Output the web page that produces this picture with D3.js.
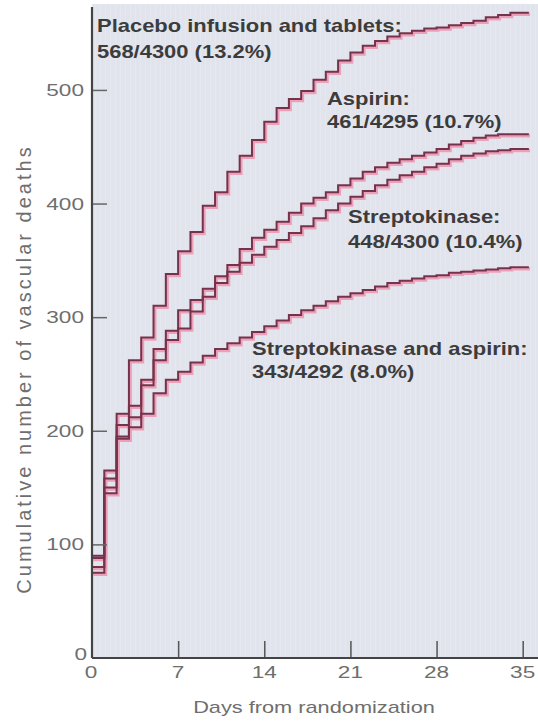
<!DOCTYPE html>
<html>
<head>
<meta charset="utf-8">
<script src="https://cdn.jsdelivr.net/npm/d3@7"></script>
<style>
  html, body { margin: 0; padding: 0; background: #fff; }
  svg { display: block; }
</style>
</head>
<body>
<div id="chart"></div>
<script>
// days from randomization (one step per day)
var days = [0,1,2,3,4,5,6,7,8,9,10,11,12,13,14,15,16,17,18,19,20,21,22,23,24,25,26,27,28,29,30,31,32,33,34,35];

// cumulative vascular deaths
var placebo = [90,165,215,262,282,310,338,358,375,398,410,428,442,456,472,484,492,499,509,516,526,533,539,543,547,550,552,554,555,557,559,561,564,566,568,568];
var aspirin = [80,150,195,212,245,272,288,306,315,325,336,346,360,370,377,384,392,400,405,410,416,422,428,432,436,439,442,445,448,452,455,458,460,461,461,461];
var strepto = [88,158,205,222,240,262,280,290,305,318,330,340,348,355,362,368,374,380,387,394,400,406,411,416,421,425,428,432,435,439,442,444,446,447,448,448];
var skAsp   = [75,145,193,203,215,233,245,252,260,266,272,277,282,287,292,297,302,306,310,314,318,321,324,327,330,332,334,336,337,339,340,341,342,343,344,344];

var seriesNames = ["Placebo infusion and tablets:", "Aspirin:", "Streptokinase:", "Streptokinase and aspirin:"];
var seriesStats = ["568/4300 (13.2%)", "461/4295 (10.7%)", "448/4300 (10.4%)", "343/4292 (8.0%)"];

var yTicks = [0,100,200,300,400,500];
var xTicks = [0,7,14,21,28,35];

var W = 538, H = 723;

var x = d3.scaleLinear().domain([0, 36]).range([92, 535]);
var y = d3.scaleLinear().domain([0, 573]).range([658, 7]);

var svg = d3.select("#chart").append("svg")
    .attr("width", W)
    .attr("height", H);

// grey plot paper
svg.append("rect")
    .attr("x", x(0)).attr("y", 4)
    .attr("width", W - x(0)).attr("height", y(0) - 4)
    .attr("fill", "#e2e4ed");

// faint vertical paper texture
var pat = svg.append("defs").append("pattern")
    .attr("id", "stripes").attr("patternUnits", "userSpaceOnUse")
    .attr("width", 5).attr("height", 10);
pat.append("rect").attr("width", 1).attr("height", 10).attr("fill", "#eceef4");
svg.append("rect")
    .attr("x", x(0)).attr("y", 4)
    .attr("width", W - x(0)).attr("height", y(0) - 4)
    .attr("fill", "url(#stripes)").attr("opacity", 0.35);

// step curves
var all = [placebo, aspirin, strepto, skAsp];
var line = d3.line()
    .x(function(d) { return x(d.day); })
    .y(function(d) { return y(d.v); })
    .curve(d3.curveStepAfter);

var curves = all.map(function(vals) {
  var pts = days.map(function(d, i) { return {day: d, v: vals[i]}; });
  pts.push({day: 35.5, v: vals[vals.length - 1]});
  return pts;
});

var g = svg.append("g");
// pink misregistered halo
g.selectAll("path.halo")
  .data(curves).enter()
  .append("path")
    .attr("class", "halo")
    .attr("d", line)
    .attr("fill", "none")
    .attr("stroke", "#ee9fb8")
    .attr("stroke-width", 3.5)
    .attr("transform", "translate(1.2,1.5)");
g.selectAll("path.ink")
  .data(curves).enter()
  .append("path")
    .attr("class", "ink")
    .attr("d", line)
    .attr("fill", "none")
    .attr("stroke", "#74334c")
    .attr("stroke-width", 2);

// axes
var yAxis = d3.axisRight(y).tickValues(yTicks.filter(function(t){ return t > 0; }))
    .tickSize(15).tickFormat("");
var xAxis = d3.axisTop(x).tickValues(xTicks.filter(function(t){ return t > 0; }))
    .tickSize(17).tickFormat("");

svg.append("g").attr("transform", "translate(" + x(0) + ",0)").call(yAxis)
  .call(function(s) {
    s.select(".domain").remove();
    s.selectAll("line").attr("stroke", "#666").attr("stroke-width", 1.5);
  });
svg.append("g").attr("transform", "translate(0," + y(0) + ")").call(xAxis)
  .call(function(s) {
    s.select(".domain").remove();
    s.selectAll("line").attr("stroke", "#555").attr("stroke-width", 1.5);
  });

svg.append("line")
    .attr("x1", x(0)).attr("x2", x(0))
    .attr("y1", 7).attr("y2", y(0))
    .attr("stroke", "#444").attr("stroke-width", 2.2);
svg.append("line")
    .attr("x1", x(0)).attr("x2", W)
    .attr("y1", y(0)).attr("y2", y(0))
    .attr("stroke", "#444").attr("stroke-width", 2.2);

// tick labels (the print is wide, so stretch glyphs horizontally)
var font = "'Liberation Sans', Arial, sans-serif";
svg.append("g").selectAll("text")
  .data(yTicks).enter().append("text")
    .attr("transform", function(d) {
      var tx = d === 0 ? x(0) - 5 : x(0) - 8;
      var ty = d === 0 ? y(d) + 2 : y(d) + 6;
      return "translate(" + tx + "," + ty + ") scale(1.33,1)";
    })
    .attr("text-anchor", "end")
    .attr("font-family", font).attr("font-size", 17)
    .attr("fill", "#6e6e6e")
    .text(function(d) { return d; });

svg.append("g").selectAll("text")
  .data(xTicks).enter().append("text")
    .attr("transform", function(d) {
      var tx = d === 0 ? x(d) - 1 : x(d);
      return "translate(" + tx + "," + (y(0) + 20) + ") scale(1.33,1)";
    })
    .attr("text-anchor", "middle")
    .attr("font-family", font).attr("font-size", 17)
    .attr("fill", "#6e6e6e")
    .text(function(d) { return d; });

// axis titles
svg.append("text")
    .attr("transform", "translate(31,369) rotate(-90)")
    .attr("text-anchor", "middle")
    .attr("font-family", font).attr("font-size", 20)
    .attr("letter-spacing", 3)
    .attr("fill", "#6e6e6e")
    .text("Cumulative number of vascular deaths");

svg.append("text")
    .attr("transform", "translate(314,713) scale(1.28,1)")
    .attr("text-anchor", "middle")
    .attr("font-family", font).attr("font-size", 17)
    .attr("fill", "#6e6e6e")
    .text("Days from randomization");

// series labels
var labelPos = [[97, 32], [327, 105], [348, 223], [252, 355]];
var lineGap = [26, 23, 25, 23];
var lab = svg.append("g").selectAll("g")
  .data(seriesNames).enter().append("g")
    .attr("transform", function(d, i) {
      return "translate(" + labelPos[i][0] + "," + labelPos[i][1] + ") scale(1.22,1)";
    });
lab.append("text")
    .attr("font-family", font).attr("font-size", 18).attr("font-weight", "bold")
    .attr("fill", "#3c3c3c")
    .text(function(d) { return d; });
lab.append("text")
    .attr("y", function(d, i) { return lineGap[i]; })
    .attr("font-family", font).attr("font-size", 18).attr("font-weight", "bold")
    .attr("fill", "#3c3c3c")
    .text(function(d, i) { return seriesStats[i]; });
</script>
</body>
</html>
